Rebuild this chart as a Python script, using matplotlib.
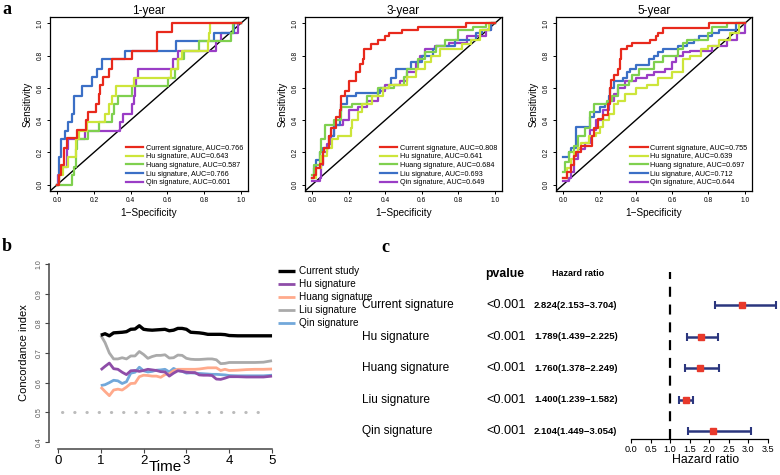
import numpy as np
import matplotlib
matplotlib.use('Agg')
import matplotlib.pyplot as plt
import matplotlib.transforms as mtrans

plt.rcParams['font.family'] = ['Liberation Sans', 'DejaVu Sans']

W, H = 780, 475

# ---- data ----
signatures = ['Current signature', 'Hu signature', 'Huang signature', 'Liu signature', 'Qin signature']
auc_1y = ['0.766', '0.643', '0.587', '0.766', '0.601']
auc_3y = ['0.808', '0.641', '0.684', '0.693', '0.649']
auc_5y = ['0.755', '0.639', '0.697', '0.712', '0.644']
roc_colors = ['#E8291C', '#CDE53A', '#7FD04F', '#3B6FC6', '#9A3DC6']

# ROC vertices (fpr where tpr jumps, tpr after the jump)
y1_current = [(0, 0), (0.01, 0.06), (0.02, 0.12), (0.035, 0.23), (0.05, 0.29), (0.11, 0.34), (0.155, 0.40),
              (0.17, 0.45), (0.21, 0.50), (0.225, 0.56), (0.235, 0.62), (0.25, 0.67), (0.28, 0.72),
              (0.30, 0.78), (0.405, 0.83), (0.545, 0.95), (0.625, 1.0), (1.0, 1.0)]
y1_hu = [(0, 0), (0.01, 0.06), (0.03, 0.11), (0.06, 0.17), (0.10, 0.28), (0.12, 0.33), (0.16, 0.39),
         (0.26, 0.44), (0.28, 0.50), (0.30, 0.55), (0.32, 0.61), (0.42, 0.66), (0.62, 0.72), (0.66, 0.78),
         (0.68, 0.83), (0.82, 0.89), (0.825, 0.94), (0.835, 1.0), (1.0, 1.0)]
y1_huang = [(0, 0), (0.08, 0.06), (0.09, 0.11), (0.10, 0.22), (0.11, 0.28), (0.17, 0.33), (0.23, 0.39),
            (0.30, 0.44), (0.31, 0.50), (0.33, 0.55), (0.405, 0.61), (0.605, 0.66), (0.64, 0.72),
            (0.66, 0.78), (0.69, 0.83), (0.775, 0.89), (0.945, 0.94), (0.96, 1.0), (1.0, 1.0)]
y1_liu = [(0, 0), (0.01, 0.17), (0.02, 0.28), (0.04, 0.33), (0.06, 0.39), (0.08, 0.44), (0.09, 0.55),
          (0.135, 0.61), (0.19, 0.67), (0.215, 0.72), (0.245, 0.78), (0.37, 0.83), (0.65, 0.89),
          (0.855, 0.94), (0.965, 1.0), (1.0, 1.0)]
y1_qin = [(0, 0), (0.005, 0.06), (0.015, 0.11), (0.055, 0.22), (0.06, 0.28), (0.15, 0.33), (0.34, 0.39),
          (0.36, 0.44), (0.41, 0.50), (0.42, 0.55), (0.425, 0.61), (0.43, 0.66), (0.44, 0.72),
          (0.63, 0.78), (0.66, 0.83), (0.865, 0.89), (0.895, 0.94), (0.985, 1.0), (1.0, 1.0)]

y3_current = [(0, 0.04), (0.01, 0.06), (0.02, 0.10), (0.04, 0.13), (0.06, 0.20), (0.065, 0.23), (0.09, 0.30),
              (0.10, 0.35), (0.13, 0.42), (0.15, 0.46), (0.16, 0.55), (0.18, 0.58), (0.20, 0.64),
              (0.24, 0.70), (0.26, 0.75), (0.28, 0.78), (0.285, 0.84), (0.32, 0.87), (0.36, 0.90),
              (0.40, 0.92), (0.42, 0.94), (0.49, 0.96), (0.58, 0.98), (0.845, 1.0), (1.0, 1.0)]
y3_hu = [(0, 0.04), (0.02, 0.10), (0.05, 0.18), (0.08, 0.23), (0.11, 0.28), (0.14, 0.30), (0.21, 0.35),
         (0.22, 0.40), (0.25, 0.45), (0.27, 0.50), (0.33, 0.55), (0.39, 0.60), (0.42, 0.62), (0.52, 0.67),
         (0.57, 0.72), (0.62, 0.76), (0.65, 0.80), (0.70, 0.84), (0.82, 0.87), (0.87, 0.90),
         (0.92, 0.96), (0.97, 1.0), (1.0, 1.0)]
y3_huang = [(0, 0.06), (0.01, 0.12), (0.04, 0.20), (0.05, 0.28), (0.07, 0.37), (0.12, 0.40), (0.16, 0.48),
            (0.22, 0.50), (0.30, 0.55), (0.36, 0.60), (0.45, 0.62), (0.50, 0.67), (0.52, 0.72),
            (0.58, 0.78), (0.62, 0.82), (0.68, 0.86), (0.73, 0.90), (0.80, 0.96), (0.88, 0.98),
            (0.95, 1.0), (1.0, 1.0)]
y3_liu = [(0, 0.04), (0.01, 0.10), (0.02, 0.15), (0.04, 0.20), (0.06, 0.23), (0.09, 0.30), (0.12, 0.37),
          (0.15, 0.45), (0.16, 0.50), (0.19, 0.55), (0.24, 0.57), (0.37, 0.60), (0.42, 0.62), (0.43, 0.66),
          (0.46, 0.72), (0.54, 0.76), (0.60, 0.80), (0.66, 0.84), (0.68, 0.86), (0.78, 0.90),
          (0.90, 0.94), (0.93, 0.96), (0.98, 1.0), (1.0, 1.0)]
y3_qin = [(0, 0.02), (0.04, 0.04), (0.05, 0.12), (0.06, 0.20), (0.08, 0.25), (0.10, 0.30), (0.12, 0.37),
          (0.17, 0.40), (0.20, 0.46), (0.25, 0.48), (0.30, 0.52), (0.36, 0.58), (0.40, 0.62), (0.48, 0.64),
          (0.52, 0.70), (0.57, 0.76), (0.59, 0.80), (0.62, 0.84), (0.67, 0.86), (0.75, 0.88),
          (0.85, 0.92), (0.95, 0.96), (0.98, 1.0), (1.0, 1.0)]

y5_current = [(0, 0.04), (0.02, 0.08), (0.04, 0.12), (0.06, 0.18), (0.07, 0.20), (0.10, 0.24), (0.16, 0.30),
              (0.17, 0.35), (0.19, 0.41), (0.22, 0.43), (0.245, 0.50), (0.26, 0.60), (0.265, 0.65),
              (0.28, 0.68), (0.30, 0.72), (0.31, 0.78), (0.32, 0.84), (0.35, 0.86), (0.38, 0.88),
              (0.48, 0.90), (0.51, 0.92), (0.52, 0.94), (0.55, 0.97), (0.805, 1.0), (1.0, 1.0)]
y5_hu = [(0, 0.04), (0.02, 0.10), (0.04, 0.16), (0.06, 0.20), (0.08, 0.23), (0.10, 0.26), (0.14, 0.30),
         (0.18, 0.32), (0.20, 0.36), (0.22, 0.40), (0.25, 0.44), (0.28, 0.50), (0.30, 0.52), (0.34, 0.56),
         (0.40, 0.60), (0.46, 0.62), (0.52, 0.66), (0.60, 0.70), (0.66, 0.78), (0.70, 0.80),
         (0.76, 0.84), (0.80, 0.86), (0.86, 0.90), (0.92, 0.94), (0.97, 1.0), (1.0, 1.0)]
y5_huang = [(0, 0.08), (0.01, 0.14), (0.03, 0.20), (0.06, 0.24), (0.08, 0.30), (0.12, 0.35), (0.15, 0.45),
            (0.17, 0.50), (0.24, 0.52), (0.27, 0.55), (0.30, 0.62), (0.36, 0.64), (0.38, 0.68),
            (0.42, 0.72), (0.50, 0.76), (0.55, 0.80), (0.63, 0.84), (0.66, 0.88), (0.68, 0.90),
            (0.80, 0.94), (0.82, 0.98), (0.90, 1.0), (1.0, 1.0)]
y5_liu = [(0, 0.17), (0.03, 0.20), (0.04, 0.23), (0.07, 0.36), (0.145, 0.42), (0.17, 0.45), (0.20, 0.48),
          (0.23, 0.50), (0.25, 0.55), (0.26, 0.60), (0.28, 0.64), (0.33, 0.66), (0.35, 0.70), (0.37, 0.72),
          (0.40, 0.74), (0.47, 0.78), (0.50, 0.80), (0.52, 0.82), (0.55, 0.84), (0.63, 0.86),
          (0.68, 0.88), (0.72, 0.90), (0.75, 0.92), (0.82, 0.94), (0.86, 0.96), (0.95, 1.0), (1.0, 1.0)]
y5_qin = [(0, 0.02), (0.03, 0.04), (0.04, 0.08), (0.06, 0.16), (0.08, 0.22), (0.12, 0.26), (0.15, 0.34),
          (0.18, 0.40), (0.22, 0.46), (0.25, 0.52), (0.28, 0.56), (0.30, 0.60), (0.34, 0.64), (0.40, 0.66),
          (0.46, 0.68), (0.50, 0.70), (0.56, 0.72), (0.60, 0.76), (0.62, 0.80), (0.66, 0.82),
          (0.70, 0.83), (0.82, 0.86), (0.90, 0.90), (0.96, 0.94), (1.0, 1.0)]

# concordance index over time
cidx_time = [1.0, 1.1, 1.2, 1.3, 1.4, 1.5, 1.6, 1.7, 1.8, 1.9, 2.0, 2.1, 2.2, 2.3, 2.4, 2.5, 2.6, 2.7, 2.8,
             2.9, 3.0, 3.1, 3.2, 3.3, 3.4, 3.5, 3.6, 3.7, 3.8, 3.9, 4.0, 4.2, 4.4, 4.6, 4.8, 5.0]
cidx_current = [.760, .765, .758, .768, .769, .770, .772, .780, .781, .792, .780, .778, .777, .778, .779, .780,
                .775, .777, .783, .783, .780, .770, .769, .768, .766, .763, .763, .763, .763, .762, .759,
                .758, .758, .758, .758, .758]
cidx_hu = [.643, .655, .666, .647, .645, .635, .627, .640, .641, .638, .641, .645, .643, .641, .637, .636,
           .622, .632, .640, .638, .635, .634, .634, .626, .625, .625, .624, .612, .611, .615, .620, .620,
           .619, .619, .619, .622]
cidx_huang = [.585, .570, .556, .575, .578, .575, .585, .597, .598, .620, .625, .624, .622, .622, .618, .627,
              .630, .640, .645, .645, .645, .645, .645, .646, .648, .650, .650, .650, .641, .645, .641,
              .642, .644, .645, .645, .646]
cidx_liu = [.760, .735, .700, .680, .680, .684, .680, .690, .690, .705, .695, .682, .688, .692, .692, .694,
            .683, .684, .693, .692, .682, .679, .678, .678, .679, .680, .680, .677, .664, .665, .668, .668,
            .668, .668, .669, .674]
cidx_qin = [.590, .593, .600, .608, .606, .597, .603, .632, .635, .652, .640, .636, .638, .642, .643, .645,
            .636, .648, .641, .638, .632, .633, .632, .631, .630, .629, .628, .628, .627, .626, .624, .623,
            .623, .623, .623, .625]
cidx_labels = ['Current study', 'Hu signature', 'Huang signature', 'Liu signature', 'Qin signature']
cidx_colors = ['black', '#8E4DA8', '#FFAA8C', '#AAAAAA', '#72A8DA']

# forest plot
hr = [2.824, 1.789, 1.760, 1.400, 2.104]
hr_low = [2.153, 1.439, 1.378, 1.239, 1.449]
hr_high = [3.704, 2.225, 2.249, 1.582, 3.054]
pvals = ['<0.001', '<0.001', '<0.001', '<0.001', '<0.001']


def rect(l, t, r, b):
    return [l / W, 1 - b / H, (r - l) / W, (b - t) / H]


fig = plt.figure(figsize=(7.8, 4.75), dpi=100)

# ---- panel a: ROC curves ----
roc_sets = [('1-year', [y1_current, y1_hu, y1_huang, y1_liu, y1_qin], auc_1y, (50, 248)),
            ('3-year', [y3_current, y3_hu, y3_huang, y3_liu, y3_qin], auc_3y, (305, 502)),
            ('5-year', [y5_current, y5_hu, y5_huang, y5_liu, y5_qin], auc_5y, (556, 752))]
for title, curves, aucs, (l, r) in roc_sets:
    ax = fig.add_axes(rect(l, 17, r, 191))
    ax.set_xlim(-0.04, 1.04)
    ax.set_ylim(-0.04, 1.04)
    ax.axline((0, 0), (1, 1), color='black', lw=1)
    # draw back to front so the current signature sits on top
    for i in [4, 3, 2, 1, 0]:
        pts = np.array(curves[i])
        ax.step(pts[:, 0], pts[:, 1], where='post', color=roc_colors[i], lw=1.6,
                label=f'{signatures[i]}, AUC={aucs[i]}')
    h, lab = ax.get_legend_handles_labels()
    ax.legend(h[::-1], lab[::-1], loc='lower right', frameon=False, fontsize=5.2,
              handlelength=2.4, handletextpad=0.35, labelspacing=0.22, borderaxespad=0.25)
    ax.set_xticks([0, 0.2, 0.4, 0.6, 0.8, 1.0])
    ax.set_yticks([0, 0.2, 0.4, 0.6, 0.8, 1.0])
    ax.set_xticklabels(['0.0', '0.2', '0.4', '0.6', '0.8', '1.0'])
    ax.set_yticklabels(['0.0', '0.2', '0.4', '0.6', '0.8', '1.0'], rotation=90, va='center')
    ax.tick_params(labelsize=4.8, length=2.5, width=0.7, pad=2)
    for s in ax.spines.values():
        s.set_linewidth(0.9)
    ax.set_title(title, fontsize=8.5, pad=2)
    ax.set_xlabel('1\u2212Specificity', fontsize=7.2, labelpad=3)
    ax.set_ylabel('Sensitivity', fontsize=7.2, labelpad=3)

# ---- panel b: concordance index ----
axb = fig.add_axes(rect(49.4, 257, 280.6, 449))
axb.set_xlim(-0.2, 5.2)
axb.set_ylim(0.376, 1.024)
axb.hlines(0.5, 0.09, 4.8, colors='#BBBBBB', lw=2.2, linestyles=(0, (0.1, 3.9)), capstyle='round')
series = [cidx_current, cidx_hu, cidx_huang, cidx_liu, cidx_qin]
for i in [4, 3, 2, 1, 0]:
    axb.plot(cidx_time, series[i], color=cidx_colors[i], lw=2.4 if i == 0 else 2.0,
             label=cidx_labels[i], solid_capstyle='butt')
h, lab = axb.get_legend_handles_labels()
axb.legend(h[::-1], lab[::-1], loc='upper left', bbox_to_anchor=(274 / W, 1 - 262 / H),
           bbox_transform=fig.transFigure, frameon=False, fontsize=7.2, handlelength=1.7,
           handletextpad=0.4, labelspacing=0.3, borderaxespad=0)
for side in ['top', 'right']:
    axb.spines[side].set_visible(False)
axb.spines['left'].set_bounds(0.4, 1.0)
axb.spines['bottom'].set_bounds(0, 5)
for side in ['left', 'bottom']:
    axb.spines[side].set_color('#444444')
    axb.spines[side].set_linewidth(1.1)
axb.set_yticks([0.4, 0.5, 0.6, 0.7, 0.8, 0.9, 1.0])
axb.set_yticklabels(['0.4', '0.5', '0.6', '0.7', '0.8', '0.9', '1.0'], rotation=90, va='center')
axb.set_xticks([0, 1, 2, 3, 4, 5])
axb.tick_params(axis='y', labelsize=5, labelcolor='#555555', length=3, color='#444444', pad=2)
axb.tick_params(axis='x', labelsize=9.5, length=3, color='#444444', pad=1)
axb.set_xlabel('Time', fontsize=11, labelpad=-4.5)
axb.set_ylabel('Concordance index', fontsize=8, labelpad=5)

# ---- panel c: forest plot ----
axc = fig.add_axes(rect(631, 272, 631 + 3.8 * 137 / 3.5, 439))
axc.set_xlim(0, 3.8)
axc.set_ylim(0.75, 6.05)
rows = np.arange(len(signatures), 0, -1)
axc.axvline(1, color='black', lw=1.6, dashes=(4.5, 3.5))
axc.errorbar(hr, rows, xerr=[np.array(hr) - np.array(hr_low), np.array(hr_high) - np.array(hr)],
             fmt='s', color='#E8392B', ms=4.5, ecolor='#2B367E', elinewidth=1.8, capsize=3.2,
             capthick=1.5, clip_on=False, zorder=3)
for side in ['top', 'right', 'left']:
    axc.spines[side].set_visible(False)
axc.spines['bottom'].set_bounds(0, 3.5)
axc.spines['bottom'].set_linewidth(0.9)
axc.set_yticks([])
axc.set_xticks(np.arange(0, 3.51, 0.5))
axc.set_xticklabels([f'{v:.1f}' for v in np.arange(0, 3.51, 0.5)])
axc.tick_params(axis='x', labelsize=6.6, length=3, width=0.8, pad=1)
axc.set_xlabel('Hazard ratio', fontsize=8.8, labelpad=0.5)

tr = mtrans.blended_transform_factory(fig.transFigure, axc.transData)
fig.text(505 / W, 6.0, 'pvalue', transform=tr, fontsize=8.8, fontweight='bold', ha='center', va='center')
fig.text(578 / W, 6.0, 'Hazard ratio', transform=tr, fontsize=6.5, fontweight='bold', ha='center', va='center')
for y, name, p, m, lo, hi in zip(rows, signatures, pvals, hr, hr_low, hr_high):
    fig.text(362 / W, y, name, transform=tr, fontsize=8.6, ha='left', va='center')
    fig.text(486 / W, y, p, transform=tr, fontsize=9.2, ha='left', va='center')
    fig.text(534 / W, y, f'{m:.3f}({lo:.3f}\u2212{hi:.3f})', transform=tr, fontsize=6.8,
             fontweight='bold', ha='left', va='center')

# panel letters
for x, y, letter in [(2, 10, 'a'), (2, 246, 'b'), (381, 247, 'c')]:
    fig.text(x / W, 1 - y / H, letter, fontsize=13, fontweight='bold', family='Liberation Serif',
             ha='left', va='center')

fig.savefig('out.png', dpi=100)
